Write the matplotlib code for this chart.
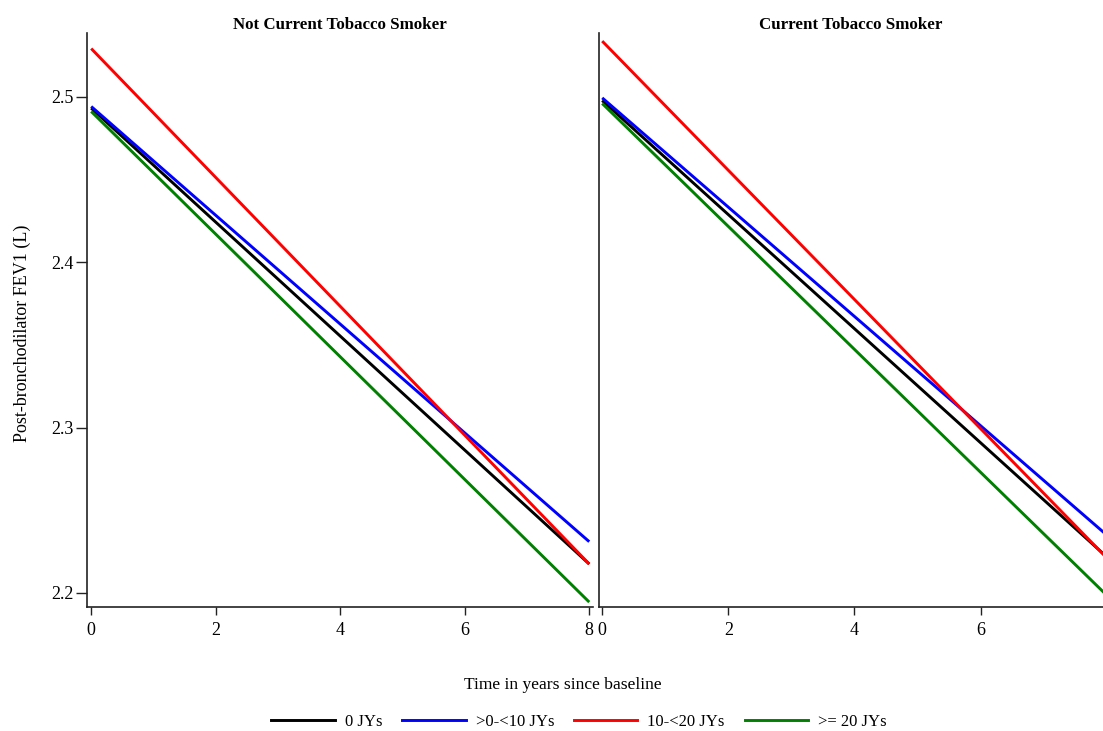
import matplotlib
matplotlib.use("Agg")
import matplotlib.pyplot as plt
from matplotlib.lines import Line2D

plt.rcParams['font.family'] = ['Liberation Serif', 'DejaVu Serif']

# Data
time = [0, 8]
groups = ["0 JYs", ">0-<10 JYs", "10-<20 JYs", ">= 20 JYs"]
colors = ["black", "#0000ff", "#ff0000", "#008000"]
panels = ["Not Current Tobacco Smoker", "Current Tobacco Smoker"]

not_current_start = [2.493, 2.494, 2.529, 2.491]
not_current_end = [2.2175, 2.2310, 2.2175, 2.1945]
current_start = [2.4976, 2.4992, 2.5335, 2.4958]
current_end = [2.2218, 2.2350, 2.2212, 2.1986]

yticks = [2.2, 2.3, 2.4, 2.5]
xticks_left = [0, 2, 4, 6, 8]
xticks_right = [0, 2, 4, 6]

fig = plt.figure(figsize=(11.03, 7.31), dpi=100)
axL = fig.add_axes([0.0789, 0.170, 0.4587, 0.7844])
axR = fig.add_axes([0.5434, 0.170, 0.4566, 0.7844])

for ax, starts, ends, title in [(axL, not_current_start, not_current_end, panels[0]),
                                 (axR, current_start, current_end, panels[1])]:
    for s, e, c, g in zip(starts, ends, colors, groups):
        ax.plot(time, [s, e], color=c, lw=2.1, label=g, solid_capstyle='butt')
    ax.set_ylim(2.1917, 2.5382)
    ax.spines['top'].set_visible(False)
    ax.spines['right'].set_visible(False)
    for sp in ['left', 'bottom']:
        ax.spines[sp].set_linewidth(1.2)
        ax.spines[sp].set_color('#222222')
    ax.set_title(title, fontsize=12.2, fontweight='bold', pad=3)
    ax.tick_params(axis='x', length=6, width=1.0, labelsize=13, pad=5, color='#222222')

axL.set_xlim(-0.067, 8.06)
axR.set_xlim(-0.045, 7.94)
axL.set_xticks(xticks_left)
axR.set_xticks(xticks_right)
axL.set_yticks(yticks)
axL.set_yticklabels([f"{v:.1f}" for v in yticks])
axL.tick_params(axis='y', length=8, width=1.0, labelsize=13, pad=2, color='#222222')
axR.set_yticks([])

fig.text(22 / 1103, 1 - 333 / 731, "Post-bronchodilator FEV1 (L)", rotation=90,
         ha='center', va='center', fontsize=13)
fig.text(0.51, 1 - 685 / 731, "Time in years since baseline", ha='center', va='center', fontsize=12.6)

handles = [Line2D([0], [0], color=c, lw=2.1) for c in colors]
fig.legend(handles, groups, loc='center', bbox_to_anchor=(0.525, 1 - 722 / 731), ncol=4,
           frameon=False, fontsize=12, handlelength=3.8, handletextpad=0.6,
           columnspacing=1.2)

fig.savefig("out.png", dpi=100)
